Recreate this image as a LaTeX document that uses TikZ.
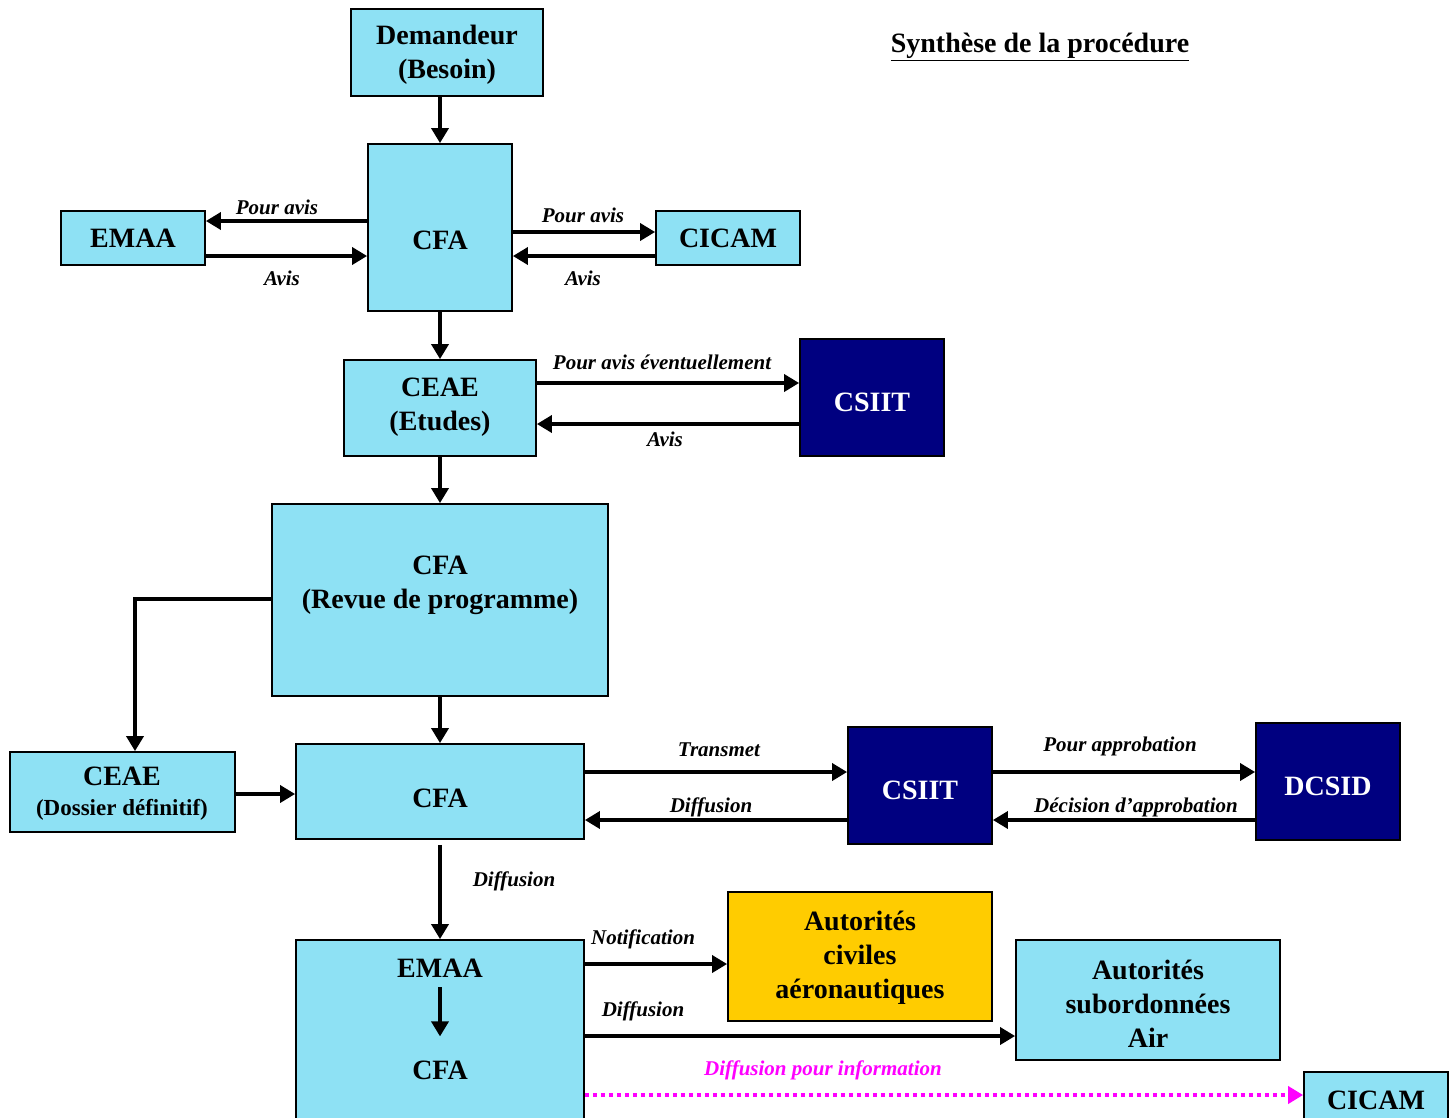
\documentclass[tikz,border=0pt]{standalone}
\usepackage{fontspec}
\setmainfont{Liberation Serif}
\usetikzlibrary{arrows.meta}
\definecolor{lb}{RGB}{142,225,244}
\definecolor{navy}{RGB}{0,0,128}
\definecolor{gold}{RGB}{255,204,0}
\definecolor{mag}{RGB}{255,0,255}
\begin{document}
\begin{tikzpicture}[x=1pt,y=-1pt,
  lbbox/.style={draw=black, line width=1.8pt, fill=lb, inner sep=0pt},
  nvbox/.style={draw=black, line width=1.8pt, fill=navy, inner sep=0pt},
  ylbox/.style={draw=black, line width=1.8pt, fill=gold, inner sep=0pt},
  btxt/.style={font=\fontsize{28}{34}\selectfont\bfseries, align=center, inner sep=0pt},
  wtxt/.style={btxt, text=white},
  lbl/.style={font=\fontsize{21}{25}\selectfont\bfseries\itshape, inner sep=0pt},
  arr/.style={line width=3.5pt, -{Triangle[length=15pt,width=17pt]}},
  dotarr/.style={draw=mag, line width=4pt, dash pattern=on 4pt off 4pt, -{Triangle[length=15pt,width=17pt,fill=mag]}}
]
\useasboundingbox (0,0) rectangle (1451,1117);

% boxes
\node[lbbox, minimum width=192pt, minimum height=87pt] (dem) at (447,52.5) {};
\node[lbbox, minimum width=144pt, minimum height=167pt] (cfa1) at (440,227.5) {};
\node[lbbox, minimum width=144pt, minimum height=54pt] (emaa1) at (133,238) {};
\node[lbbox, minimum width=144pt, minimum height=54pt] (cicam1) at (728,238) {};
\node[lbbox, minimum width=192pt, minimum height=96pt] (ceae1) at (440,408) {};
\node[nvbox, minimum width=144pt, minimum height=117pt] (csiit1) at (872,397.5) {};
\node[lbbox, minimum width=336pt, minimum height=192pt] (revue) at (440,600) {};
\node[lbbox, minimum width=225pt, minimum height=80pt] (ceae2) at (122.5,792) {};
\node[lbbox, minimum width=288pt, minimum height=95pt] (cfa3) at (440,791.5) {};
\node[nvbox, minimum width=144pt, minimum height=117pt] (csiit2) at (920,785.5) {};
\node[nvbox, minimum width=144pt, minimum height=117pt] (dcsid) at (1328,781.5) {};
\node[lbbox, minimum width=288pt, minimum height=200pt] (emcfa) at (440,1040) {};
\node[ylbox, minimum width=264pt, minimum height=129pt] (autciv) at (860,956.5) {};
\node[lbbox, minimum width=264pt, minimum height=120pt] (autsub) at (1148,1000) {};
\node[lbbox, minimum width=144pt, minimum height=66pt] (cicam2) at (1376,1105) {};

% box texts
\node[btxt] (demT) at (447,55) {Demandeur\\(Besoin)};
\node[btxt] (cfa1T) at (440,240) {CFA};
\node[btxt] (emaa1T) at (133,238) {EMAA};
\node[btxt] (cicam1T) at (728,238) {CICAM};
\node[btxt] (ceae1T) at (440,407) {CEAE\\(Etudes)};
\node[wtxt] (csiit1T) at (872,402) {CSIIT};
\node[btxt] (revueT) at (440,585) {CFA\\(Revue de programme)};
\node[btxt] (ceae2T) at (122,794) {CEAE\\[-4pt]{\fontsize{23}{27}\selectfont(Dossier définitif)}};
\node[btxt] (cfa3T) at (440,798) {CFA};
\node[wtxt] (csiit2T) at (920,790) {CSIIT};
\node[wtxt] (dcsidT) at (1328,786) {DCSID};
\node[btxt] (emaaT) at (440,968) {EMAA};
\node[btxt] (cfaT) at (440,1070) {CFA};
\node[btxt] (autcivT) at (860,958) {Autorités\\civiles\\aéronautiques};
\node[btxt] (autsubT) at (1148,1004) {Autorités\\subordonnées\\Air};
\node[btxt] (cicam2T) at (1376,1100) {CICAM};
\node[btxt] (title) at (1040,47) {\underline{Synthèse de la procédure}};

% connectors
\draw[arr] (dem.south -| cfa1.north) -- (cfa1.north);
\draw[arr] (cfa1.west |- 0,221) -- (emaa1.east |- 0,221);
\draw[arr] (emaa1.east |- 0,256) -- (cfa1.west |- 0,256);
\draw[arr] (cfa1.east |- 0,232) -- (cicam1.west |- 0,232);
\draw[arr] (cicam1.west |- 0,256) -- (cfa1.east |- 0,256);
\draw[arr] (cfa1.south) -- (ceae1.north);
\draw[arr] (ceae1.east |- 0,383) -- (csiit1.west |- 0,383);
\draw[arr] (csiit1.west |- 0,424) -- (ceae1.east |- 0,424);
\draw[arr] (ceae1.south) -- (revue.north);
\draw[arr] (revue.west |- 0,599) -| (ceae2.north -| 135,0);
\draw[arr] (revue.south) -- (cfa3.north);
\draw[arr] (ceae2.east |- 0,794) -- (cfa3.west |- 0,794);
\draw[arr] (cfa3.east |- 0,772) -- (csiit2.west |- 0,772);
\draw[arr] (csiit2.west |- 0,820) -- (cfa3.east |- 0,820);
\draw[arr] (csiit2.east |- 0,772) -- (dcsid.west |- 0,772);
\draw[arr] (dcsid.west |- 0,820) -- (csiit2.east |- 0,820);
\draw[arr] ([yshift=-5pt]cfa3.south) -- (emcfa.north);
\draw[arr] ([yshift=-10pt]emaaT.south) -- ([yshift=24pt]cfaT.north);
\draw[arr] (emcfa.east |- 0,964) -- (autciv.west |- 0,964);
\draw[arr] (emcfa.east |- 0,1036) -- (autsub.west |- 0,1036);
\draw[dotarr] (emcfa.east |- 0,1095) -- (cicam2.west |- 0,1095);

% labels
\node[lbl] (l1) at (277,207) {Pour avis};
\node[lbl] (l2) at (282,278) {Avis};
\node[lbl] (l3) at (583,215) {Pour avis};
\node[lbl] (l4) at (583,278) {Avis};
\node[lbl] (l5) at (662,362) {Pour avis éventuellement};
\node[lbl] (l6) at (665,439) {Avis};
\node[lbl] (l7) at (719,750) {Transmet};
\node[lbl] (l8) at (711,807) {Diffusion};
\node[lbl] (l9) at (1120,746) {Pour approbation};
\node[lbl] (l10) at (1136,807) {Décision d’approbation};
\node[lbl] (l11) at (514,881) {Diffusion};
\node[lbl] (l12) at (643,939) {Notification};
\node[lbl] (l13) at (643,1011) {Diffusion};
\node[lbl, text=mag] (l14) at (823,1070) {Diffusion pour information};
\end{tikzpicture}
\end{document}
